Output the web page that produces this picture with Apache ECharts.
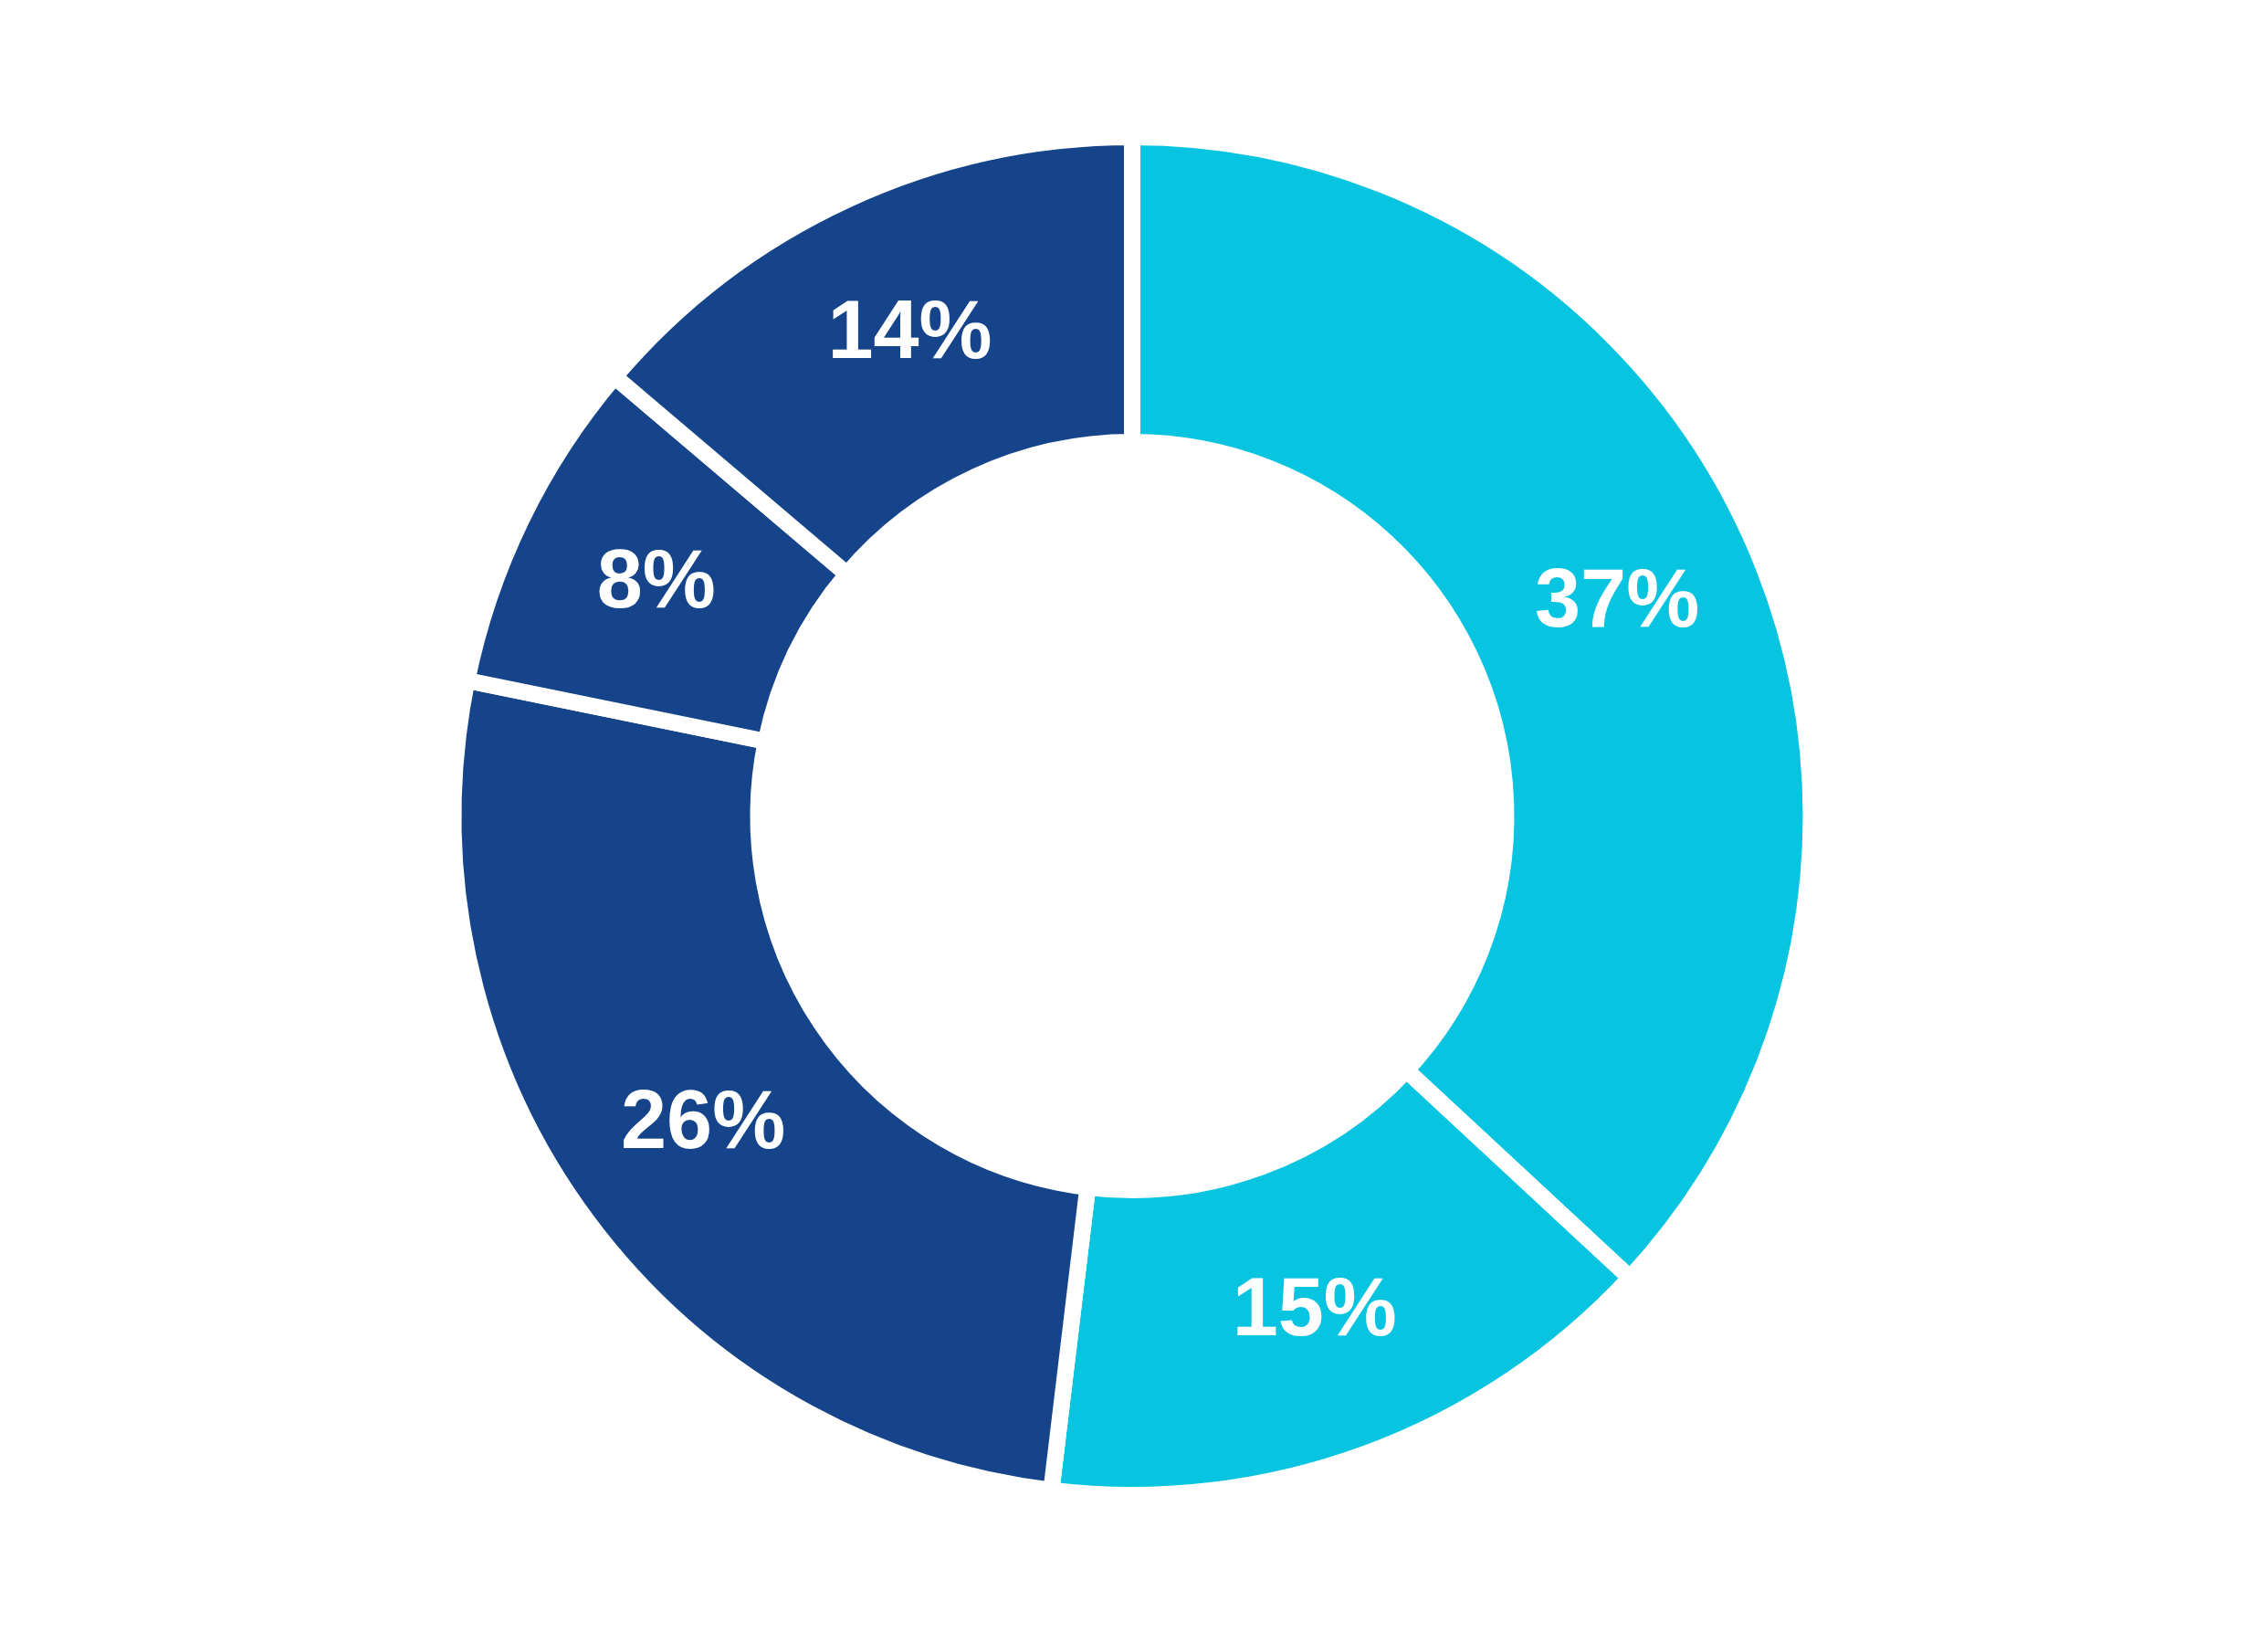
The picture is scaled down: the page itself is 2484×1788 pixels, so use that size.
<!DOCTYPE html>
<html>
<head>
<meta charset="utf-8">
<script src="https://cdn.jsdelivr.net/npm/echarts@6/dist/echarts.min.js"></script>
<style>
  html, body { margin: 0; padding: 0; background: #fff; }
  #chart { width: 2484px; height: 1788px; }
</style>
</head>
<body>
<div id="chart"></div>
<script>
// slices clockwise from 12 o'clock (labels show rounded percent)
const categories = ["A", "B", "C", "D", "E"];
const values = [36.9, 15.0, 26.3, 8.0, 13.8];
const colors = ["#07c4e0", "#07c4e0", "#15448a", "#15448a", "#15448a"];

const chart = echarts.init(document.getElementById("chart"));
const gap = 18;

const option = {
  animation: false,
  series: [
    {
      type: "pie",
      center: [1240, 893.5],
      radius: [418.5 - gap / 2, 734.5 + gap / 2],
      startAngle: 90,
      clockwise: true,
      silent: true,
      itemStyle: {
        borderColor: "#ffffff",
        borderWidth: gap,
      },
      label: {
        show: true,
        position: "inside",
        formatter: (p) => Math.round(p.value) + "%",
        color: "#ffffff",
        fontFamily: "Arial",
        fontWeight: 700,
        fontSize: 90,
        padding: [8, 0, 0, 0],
      },
      labelLine: { show: false },
      data: categories.map((name, i) => ({
        name: name,
        value: values[i],
        itemStyle: { color: colors[i] },
      })),
    },
  ],
};

chart.setOption(option);
window.addEventListener("resize", chart.resize);
</script>
</body>
</html>
